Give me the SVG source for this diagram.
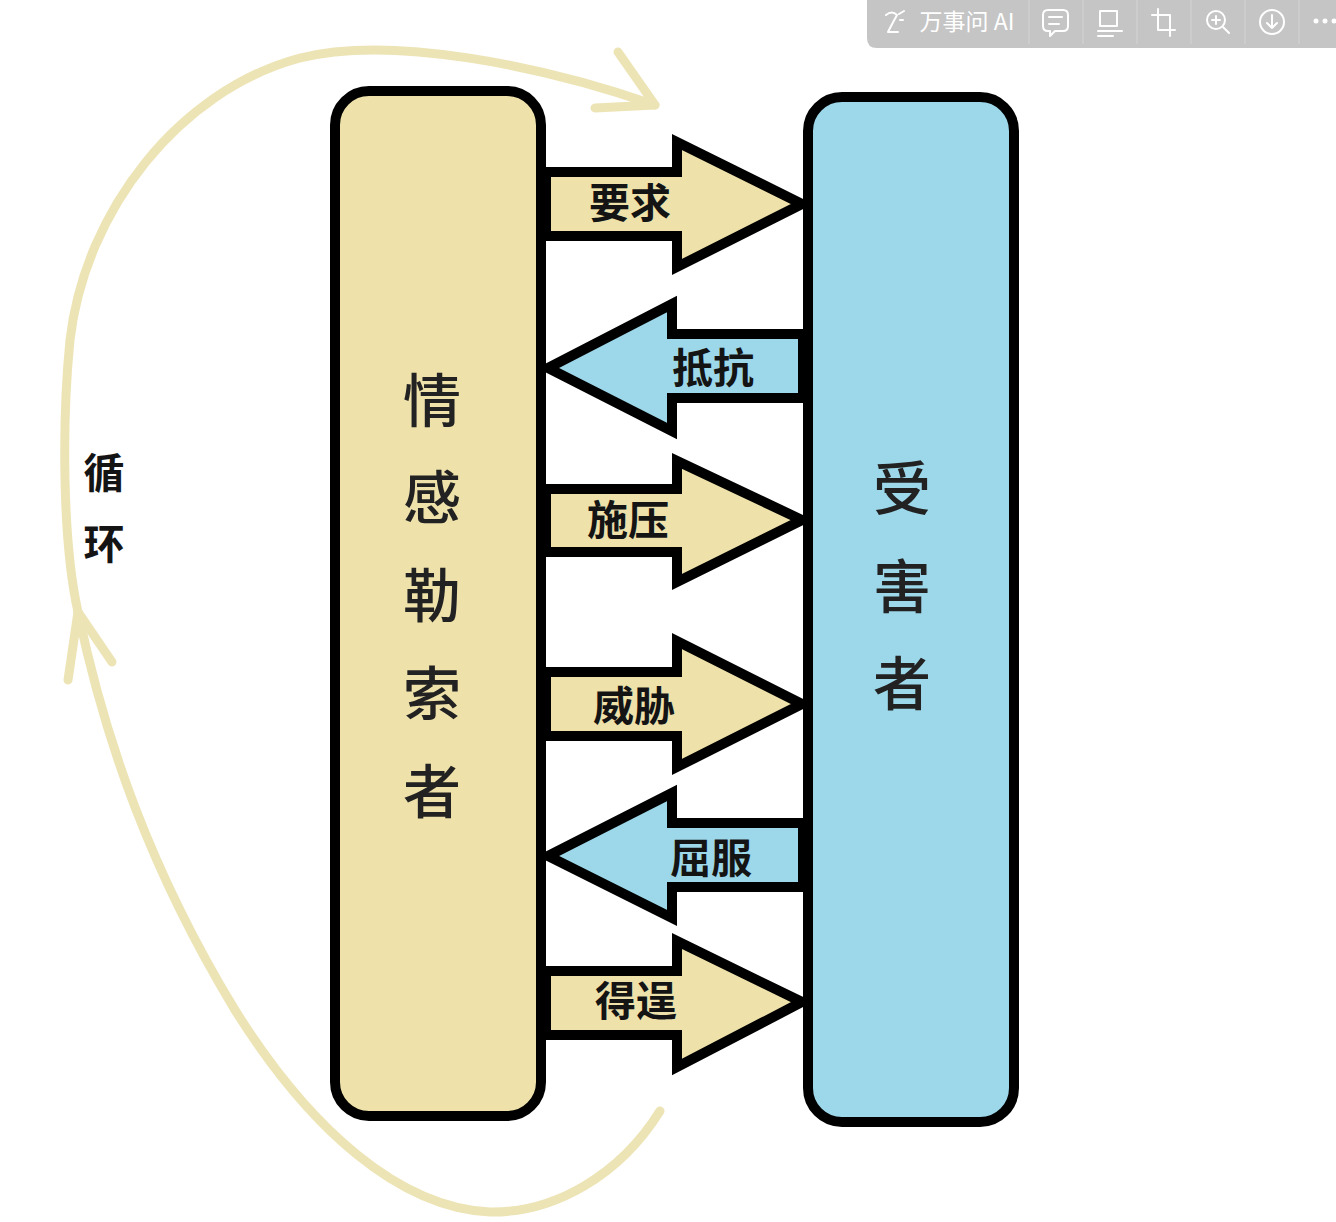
<svg xmlns="http://www.w3.org/2000/svg" width="1336" height="1222" viewBox="0 0 1336 1222">
<style>
.cjk{font-family:"Noto Sans CJK SC","Noto Sans CJK JP",sans-serif}
.big{font-size:58px;fill:#222;text-anchor:middle;font-weight:500}
.lab{font-size:41px;fill:#141414;font-weight:700;text-anchor:middle}
.box{stroke:#000;stroke-width:10;stroke-linejoin:round}
.y{fill:#eee1aa}.b{fill:#9dd8ea}
.arr{stroke:#000;stroke-width:10;stroke-linejoin:miter;stroke-miterlimit:3}
.loop{fill:none;stroke:#ede4b6;stroke-width:9;stroke-linecap:round;stroke-linejoin:round}
.tb{fill:none;stroke:#fff;stroke-width:2;stroke-linecap:round;stroke-linejoin:round}
.sep{stroke:#d4d4d4;stroke-width:1}
</style>
<rect width="1336" height="1222" fill="#fff"/>
<g id="connectors">
<g id="loop">
<path class="loop" d="M660 1111C620 1175 555 1213 490 1212C400 1208 310 1130 235 1010C150 870 105 740 78 612"/>
<path class="loop" d="M68 680L78 612L112 662"/>
<path class="loop" d="M78 612C62 540 62 420 70 340C85 210 180 90 300 58C390 35 540 65 655 105"/>
<path class="loop" d="M618 52L655 105L595 108"/>
</g>
<g id="a1"><path class="arr y" d="M546 172H677V142L802 204L677 267V236H546Z"/></g>
<g id="a2"><path class="arr b" d="M803 334H672V304L548 368L672 431V398H803Z"/></g>
<g id="a3"><path class="arr y" d="M546 489H677V461L802 520L677 582V552H546Z"/></g>
<g id="a4"><path class="arr y" d="M546 672H677V641L802 704L677 767V736H546Z"/></g>
<g id="a5"><path class="arr b" d="M803 823H672V793L548 856L672 918V887H803Z"/></g>
<g id="a6"><path class="arr y" d="M546 971H677V941L802 1002L677 1067V1035H546Z"/></g>
</g>
<g id="node-blackmailer">
<rect class="box y" x="335" y="91" width="206" height="1025" rx="34"/>
<g class="cjk big">
<text x="432" y="422">情</text><text x="432" y="519">感</text><text x="432" y="617">勒</text><text x="432" y="715">索</text><text x="432" y="813">者</text>
</g>
</g>
<g id="node-victim">
<rect class="box b" x="808" y="97" width="206" height="1025" rx="34"/>
<g class="cjk big">
<text x="902" y="510">受</text><text x="902" y="608">害</text><text x="902" y="705">者</text>
</g>
</g>
<g class="cjk lab">
<text x="630" y="218">要求</text>
<text x="713" y="383">抵抗</text>
<text x="628" y="535">施压</text>
<text x="634" y="721">威胁</text>
<text x="711" y="873">屈服</text>
<text x="636" y="1016">得逞</text>
<text x="104" y="488">循</text>
<text x="104" y="559">环</text>
</g>
<g id="toolbar">
<path d="M877 0H1336V48H877Q867 48 867 38V0Z" fill="#c5c5c5"/>
<path class="sep" d="M1029 0V44M1083 0V44M1137 0V44M1191 0V44M1245 0V44M1299 0V44"/>
<path class="tb" d="M886 15Q892 10 897 15Q892 24 888 32H898M899 14L904 11M900 20L903 20"/>
<text x="967" y="30" class="cjk" font-size="23" fill="#fff" text-anchor="middle" font-weight="400">万事问 AI</text>
<path class="tb" d="M1048 10H1063Q1068 10 1068 15V26Q1068 31 1063 31H1055L1050 36V31H1048Q1043 31 1043 26V15Q1043 10 1048 10ZM1049 17H1062M1049 24H1059"/>
<path class="tb" d="M1100 11H1117V26H1100ZM1098 31H1122M1098 36H1113"/>
<path class="tb" d="M1158 9V30H1175M1152 15H1170V36"/>
<circle class="tb" cx="1216" cy="20" r="9"/>
<path class="tb" d="M1223 27L1229 33M1216 16V24M1212 20H1220"/>
<circle class="tb" cx="1272" cy="22" r="12"/>
<path class="tb" d="M1272 15V28M1267 23L1272 28L1277 23"/>
<g fill="#fff"><circle cx="1316" cy="21" r="2.5"/><circle cx="1325" cy="21" r="2.5"/><circle cx="1334" cy="21" r="2.5"/></g>
</g>
</svg>
